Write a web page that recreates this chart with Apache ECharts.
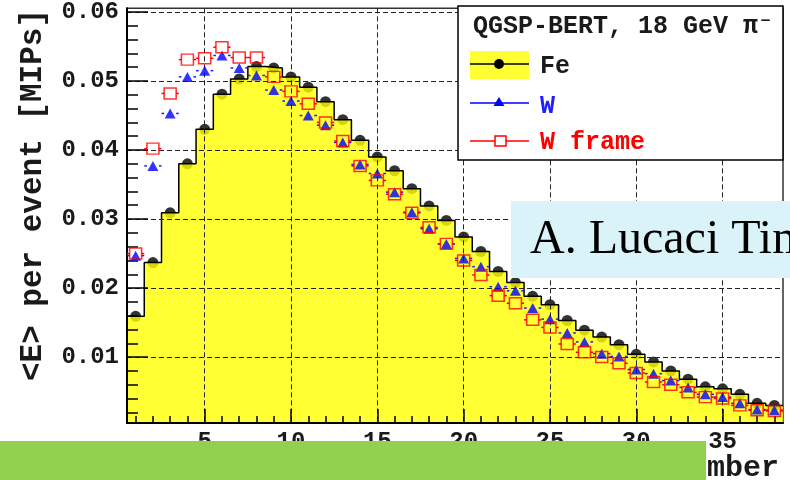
<!DOCTYPE html>
<html>
<head>
<meta charset="utf-8">
<script src="https://cdn.jsdelivr.net/npm/echarts@6/dist/echarts.min.js"></script>
<style>
html,body{margin:0;padding:0;background:#fff;}
#chart{width:790px;height:480px;}
</style>
</head>
<body>
<div id="chart"></div>
<script>
const layers = [1,2,3,4,5,6,7,8,9,10,11,12,13,14,15,16,17,18,19,20,21,22,23,24,25,26,27,28,29,30,31,32,33,34,35,36,37,38];
const fe = [0.0159,0.0237,0.0309,0.0380,0.0430,0.0481,0.0503,0.0521,0.0519,0.0506,0.0491,0.0470,0.0444,0.0414,0.0390,0.0370,0.0344,0.0319,0.0298,0.0274,0.0253,0.0224,0.0208,0.0188,0.0176,0.0153,0.0139,0.0129,0.0118,0.0104,0.0093,0.0080,0.0068,0.0057,0.0054,0.0046,0.0033,0.0030];
const w = [0.0247,0.0377,0.0453,0.0506,0.0515,0.0537,0.0519,0.0508,0.0487,0.0471,0.0450,0.0436,0.0411,0.0379,0.0366,0.0339,0.0310,0.0286,0.0264,0.0243,0.0231,0.0202,0.0196,0.0171,0.0155,0.0135,0.0122,0.0105,0.0101,0.0082,0.0076,0.0066,0.0056,0.0046,0.0042,0.0033,0.0024,0.0023];
const wFrame = [0.0250,0.0402,0.0482,0.0531,0.0533,0.0549,0.0534,0.0534,0.0506,0.0485,0.0467,0.0440,0.0413,0.0377,0.0356,0.0336,0.0309,0.0288,0.0264,0.0240,0.0219,0.0189,0.0178,0.0154,0.0143,0.0119,0.0107,0.0100,0.0091,0.0077,0.0064,0.0060,0.0049,0.0042,0.0040,0.0030,0.0023,0.0022];
const seriesNames = ['Fe','W','W frame'];
const legendTitle = 'QGSP-BERT, 18 GeV \u03c0\u207b';
const xTitle = 'Layer number';
const yTitle = '<E> per event [MIPs]';
const xTicks = [5,10,15,20,25,30,35];
const yTicks = [0.01,0.02,0.03,0.04,0.05,0.06];
const yMinorTicks = [0.002,0.004,0.006,0.008,0.012,0.014,0.016,0.018,0.022,0.024,0.026,0.028,0.032,0.034,0.036,0.038,0.042,0.044,0.046,0.048,0.052,0.054,0.056,0.058];
const overlayText = 'A. Lucaci Timoce';

const MONO = '"Liberation Mono","DejaVu Sans Mono",monospace';
const feStep = [];
layers.forEach((l, i) => { feStep.push([l - 0.5, fe[i]], [l + 0.5, fe[i]]); });
const pts = arr => layers.map((l, i) => [l, arr[i]]);

function errBars(color, gap) {
  return function (params, api) {
    const x = api.value(0), y = api.value(1);
    const pL = api.coord([x - 0.5, y]);
    const pR = api.coord([x + 0.5, y]);
    const pC = api.coord([x, y]);
    return {
      type: 'group',
      children: [
        {type: 'line', shape: {x1: pL[0], y1: pC[1], x2: pC[0] - gap, y2: pC[1]}, style: {stroke: color, lineWidth: 1.5}},
        {type: 'line', shape: {x1: pC[0] + gap, y1: pC[1], x2: pR[0], y2: pC[1]}, style: {stroke: color, lineWidth: 1.5}}
      ]
    };
  };
}

const chart = echarts.init(document.getElementById('chart'), null, {renderer: 'canvas'});
const gridLine = {show: true, lineStyle: {color: '#222', width: 1, type: [5, 3]}};
const option = {
  animation: false,
  grid: {left: 127, right: 7, top: 7, bottom: 57, show: true, borderColor: '#333', borderWidth: 1.5, backgroundColor: 'transparent'},
  xAxis: [
    {type: 'value', min: 0.5, max: 38.5, position: 'bottom', z: 3,
     axisLine: {show: true, lineStyle: {color: '#000', width: 2}},
     axisTick: {show: true, inside: true, length: 14, customValues: xTicks, lineStyle: {color: '#000', width: 1.5}},
     axisLabel: {show: true, customValues: xTicks, margin: 7, fontFamily: MONO, fontSize: 24, fontWeight: 'bold', color: '#1a1a1a'},
     splitLine: gridLine},
    {type: 'value', min: 0.5, max: 38.5, position: 'bottom', offset: 0, z: 3,
     axisLine: {show: false},
     axisTick: {show: true, inside: true, length: 7, customValues: layers, lineStyle: {color: '#000', width: 1.5}},
     axisLabel: {show: false}, splitLine: {show: false}}
  ],
  yAxis: [
    {type: 'value', min: 0.00045, max: 0.06053, position: 'left', z: 3,
     axisLine: {show: true, lineStyle: {color: '#000', width: 2}},
     axisTick: {show: true, inside: true, length: 21, customValues: yTicks, lineStyle: {color: '#000', width: 1.5}},
     axisLabel: {show: true, customValues: yTicks, margin: 8, fontFamily: MONO, fontSize: 24, fontWeight: 'bold', color: '#1a1a1a',
                 formatter: v => v.toFixed(2)},
     splitLine: gridLine},
    {type: 'value', min: 0.00045, max: 0.06053, position: 'left', offset: 0, z: 3,
     axisLine: {show: false},
     axisTick: {show: true, inside: true, length: 11, customValues: yMinorTicks, lineStyle: {color: '#000', width: 1.5}},
     axisLabel: {show: false}, splitLine: {show: false}}
  ],
  series: [
    {name: 'Fe dots', type: 'scatter', data: pts(fe), symbol: 'circle', symbolSize: 11, z: 1,
     itemStyle: {color: '#000'}},
    {name: seriesNames[0], type: 'line', data: feStep, symbol: 'none', z: 2,
     lineStyle: {color: '#000', width: 1.5},
     areaStyle: {color: '#ffff00', opacity: 0.8}},
    {name: 'W err', type: 'custom', data: pts(w), encode: {x: 0, y: 1}, z: 5, renderItem: errBars('#1a1aff', 6)},
    {name: seriesNames[1], type: 'scatter', data: pts(w), symbol: 'triangle', symbolSize: [11, 10], z: 6,
     itemStyle: {color: '#0000ff'}},
    {name: 'W frame err', type: 'custom', data: pts(wFrame), encode: {x: 0, y: 1}, z: 7, renderItem: errBars('#ff0000', 6)},
    {name: seriesNames[2], type: 'scatter', data: pts(wFrame), symbol: 'rect', symbolSize: [12, 11], z: 8,
     itemStyle: {color: 'rgba(0,0,0,0)', borderColor: '#ff0000', borderWidth: 1.5}}
  ],
  graphic: [
    {type: 'text', x: 33, y: 9, rotation: Math.PI / 2, z: 10,
     style: {text: yTitle, font: 'bold 31px ' + MONO, fill: '#1a1a1a', textAlign: 'right', textVerticalAlign: 'middle', align: 'right', verticalAlign: 'middle'}},
    {type: 'text', x: 779, y: 468, z: 10,
     style: {text: xTitle, font: 'bold 30px ' + MONO, fill: '#1a1a1a', textAlign: 'right', textVerticalAlign: 'middle', align: 'right', verticalAlign: 'middle'}},
    {type: 'rect', z: 50, shape: {x: 458, y: 6, width: 325, height: 154}, style: {fill: '#fff', stroke: '#000', lineWidth: 1.5}},
    {type: 'text', x: 473, y: 27, z: 51,
     style: {text: legendTitle, font: 'bold 25px ' + MONO, fill: '#1a1a1a', textAlign: 'left', textVerticalAlign: 'middle', align: 'left', verticalAlign: 'middle'}},
    {type: 'rect', z: 51, shape: {x: 470, y: 51, width: 59, height: 28}, style: {fill: '#ffff33'}},
    {type: 'line', z: 52, shape: {x1: 470, y1: 64, x2: 529, y2: 64}, style: {stroke: '#000', lineWidth: 1.5}},
    {type: 'circle', z: 53, shape: {cx: 499, cy: 64, r: 5}, style: {fill: '#000'}},
    {type: 'text', x: 540, y: 67, z: 51,
     style: {text: seriesNames[0], font: 'bold 25px ' + MONO, fill: '#1a1a1a', textAlign: 'left', textVerticalAlign: 'middle', align: 'left', verticalAlign: 'middle'}},
    {type: 'line', z: 52, shape: {x1: 470, y1: 103, x2: 529, y2: 103}, style: {stroke: '#0000ff', lineWidth: 1.5}},
    {type: 'polygon', z: 53, shape: {points: [[499, 97], [504.5, 106], [493.5, 106]]}, style: {fill: '#0000ff'}},
    {type: 'text', x: 540, y: 107, z: 51,
     style: {text: seriesNames[1], font: 'bold 25px ' + MONO, fill: '#2020ff', textAlign: 'left', textVerticalAlign: 'middle', align: 'left', verticalAlign: 'middle'}},
    {type: 'line', z: 52, shape: {x1: 470, y1: 141, x2: 529, y2: 141}, style: {stroke: '#ff0000', lineWidth: 1.5}},
    {type: 'rect', z: 53, shape: {x: 495, y: 136, width: 11, height: 10}, style: {fill: '#fff', stroke: '#ff0000', lineWidth: 1.5}},
    {type: 'text', x: 540, y: 143, z: 51,
     style: {text: seriesNames[2], font: 'bold 25px ' + MONO, fill: '#ff0000', textAlign: 'left', textVerticalAlign: 'middle', align: 'left', verticalAlign: 'middle'}},
    {type: 'rect', z: 100, shape: {x: 511, y: 201, width: 279, height: 77}, style: {fill: '#daf3f8'}},
    {type: 'text', x: 530, y: 240, z: 101,
     style: {text: overlayText, font: '48px "Liberation Serif","DejaVu Serif",serif', fill: '#000', textAlign: 'left', textVerticalAlign: 'middle', align: 'left', verticalAlign: 'middle'}},
    {type: 'rect', z: 100, shape: {x: 0, y: 441, width: 706, height: 39}, style: {fill: '#92d050'}}
  ]
};
chart.setOption(option);
</script>
</body>
</html>
